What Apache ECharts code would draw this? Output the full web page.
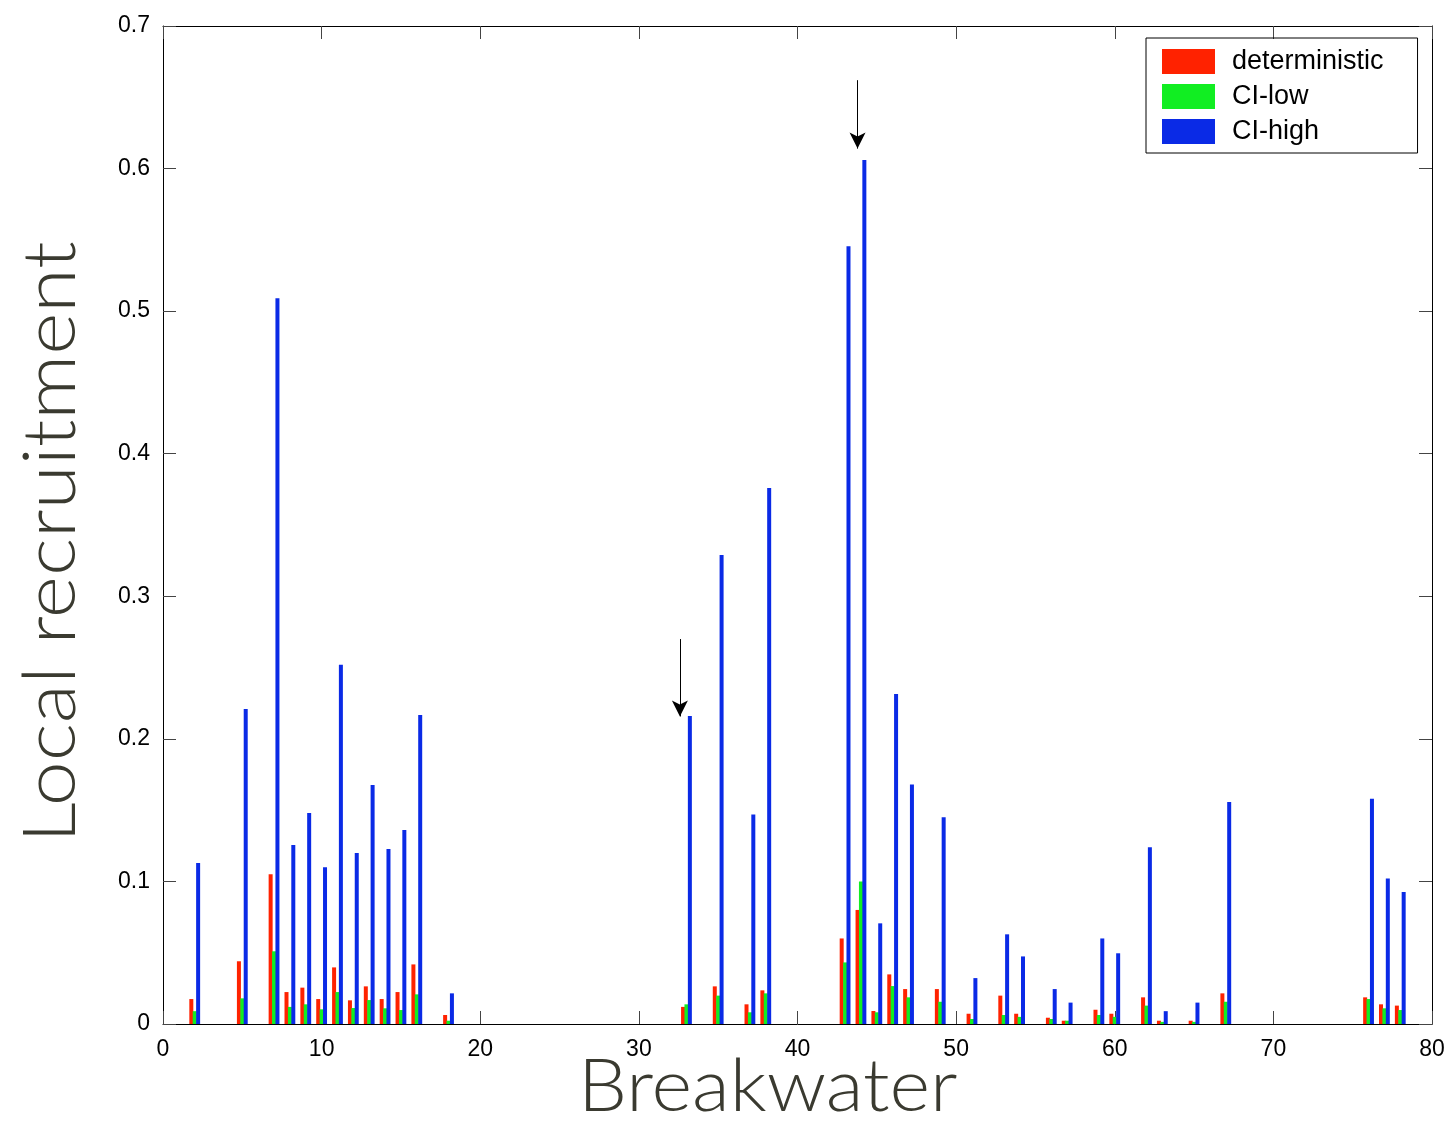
<!DOCTYPE html>
<html>
<head>
<meta charset="utf-8">
<script src="https://cdn.jsdelivr.net/npm/echarts@6/dist/echarts.min.js"></script>
<style>
html,body{margin:0;padding:0;background:#fff;}
#chart{width:1454px;height:1123px;}
</style>
</head>
<body>
<div id="chart"></div>
<script>
var breakwater = [2,5,7,8,9,10,11,12,13,14,15,16,18,33,35,37,38,43,44,45,46,47,49,51,53,54,56,57,59,60,62,63,65,67,76,77,78];
var deterministic = [0.0175,0.044,0.105,0.0224,0.0255,0.0175,0.0397,0.0166,0.0264,0.0175,0.0224,0.0418,0.0063,0.012,0.0264,0.0138,0.0236,0.060,0.080,0.0091,0.0348,0.0245,0.0245,0.0072,0.0199,0.0072,0.0044,0.0023,0.010,0.0072,0.0187,0.0023,0.0023,0.0215,0.0187,0.0138,0.0129];
var ciLow = [0.009,0.018,0.051,0.012,0.0138,0.0103,0.0224,0.0112,0.0168,0.011,0.0098,0.0208,0.0023,0.0138,0.0199,0.0082,0.0215,0.0432,0.100,0.0082,0.0266,0.0187,0.0156,0.0035,0.0063,0.005,0.0035,0.0023,0.0063,0.005,0.0129,0.0015,0.0015,0.0156,0.0175,0.011,0.0098];
var ciHigh = [0.113,0.221,0.509,0.1255,0.148,0.110,0.252,0.120,0.1676,0.1227,0.136,0.2167,0.0215,0.216,0.329,0.147,0.376,0.5456,0.606,0.0706,0.2314,0.168,0.145,0.0322,0.0629,0.0474,0.0245,0.015,0.060,0.0496,0.124,0.009,0.015,0.1557,0.158,0.102,0.0926];
// annotation arrows: [x, yStart, yEnd]
var arrows = [[32.8, 0.27, 0.2157], [44.0, 0.662, 0.614]];
var xTicks = {min: 0, max: 80, interval: 10};
var yTicks = {min: 0, max: 0.7, interval: 0.1};

function pairs(vals){ return breakwater.map(function(x,i){ return [x, vals[i]]; }); }

var chart = echarts.init(document.getElementById('chart'));
var labelFont = {fontFamily: 'Liberation Sans, Arial, sans-serif', fontSize: 23, color: '#000'};
function axisBase(extra){
  return Object.assign({
    axisLine: {show: true, onZero: false, lineStyle: {color: '#000', width: 1}},
    axisTick: {show: true, inside: true, length: 13, lineStyle: {color: '#444', width: 1}},
    splitLine: {show: false}
  }, extra);
}
var titleFont = '300 72px Lato, "Open Sans", sans-serif';
var option = {
  animation: false,
  backgroundColor: '#fff',
  grid: {left: 163, right: 22, top: 26, bottom: 99, containLabel: false},
  legend: {
    show: true,
    orient: 'vertical',
    left: 1146, top: 38,
    padding: [10, 34, 8, 16],
    itemWidth: 53, itemHeight: 25, itemGap: 8,
    borderColor: '#000', borderWidth: 1,
    icon: 'rect',
    textStyle: {fontFamily: 'Liberation Sans, Arial, sans-serif', fontSize: 27, color: '#000', padding: [0, 0, 0, 12]},
    data: ['deterministic', 'CI-low', 'CI-high']
  },
  xAxis: [
    axisBase({type: 'value', position: 'bottom', min: xTicks.min, max: xTicks.max, interval: xTicks.interval,
      axisLabel: Object.assign({margin: 14}, labelFont)}),
    axisBase({type: 'value', position: 'top', min: xTicks.min, max: xTicks.max, interval: xTicks.interval,
      axisLabel: {show: false}})
  ],
  yAxis: [
    axisBase({type: 'value', position: 'left', min: yTicks.min, max: yTicks.max, interval: yTicks.interval,
      axisLabel: Object.assign({margin: 13}, labelFont)}),
    axisBase({type: 'value', position: 'right', min: yTicks.min, max: yTicks.max, interval: yTicks.interval,
      axisLabel: {show: false}})
  ],
  graphic: [
    {type: 'text', x: 578, y: 1052, scaleX: 1.08, style: {text: 'Breakwater', font: titleFont, fill: '#3a3a30'}},
    {type: 'text', rotation: Math.PI/2, x: 16, y: 843, scaleX: 1.12, style: {text: 'Local recruitment', font: titleFont, fill: '#3a3a30'}}
  ],
  series: [
    {name: 'deterministic', type: 'bar', barWidth: 4, barGap: '-15%', itemStyle: {color: '#ff2200'}, data: pairs(deterministic),
      markLine: {
        silent: true, symbol: ['none', 'arrow'], symbolSize: [12, 16],
        lineStyle: {color: '#000', width: 1, type: 'solid'}, label: {show: false},
        data: arrows.map(function(a){ return [{coord: [a[0], a[1]]}, {coord: [a[0], a[2]]}]; })
      }},
    {name: 'CI-low', type: 'bar', barWidth: 4, barGap: '-15%', itemStyle: {color: '#11ee22'}, data: pairs(ciLow)},
    {name: 'CI-high', type: 'bar', barWidth: 4, barGap: '-15%', itemStyle: {color: '#0a2ae6'}, data: pairs(ciHigh)}
  ]
};
chart.setOption(option);
</script>
</body>
</html>
